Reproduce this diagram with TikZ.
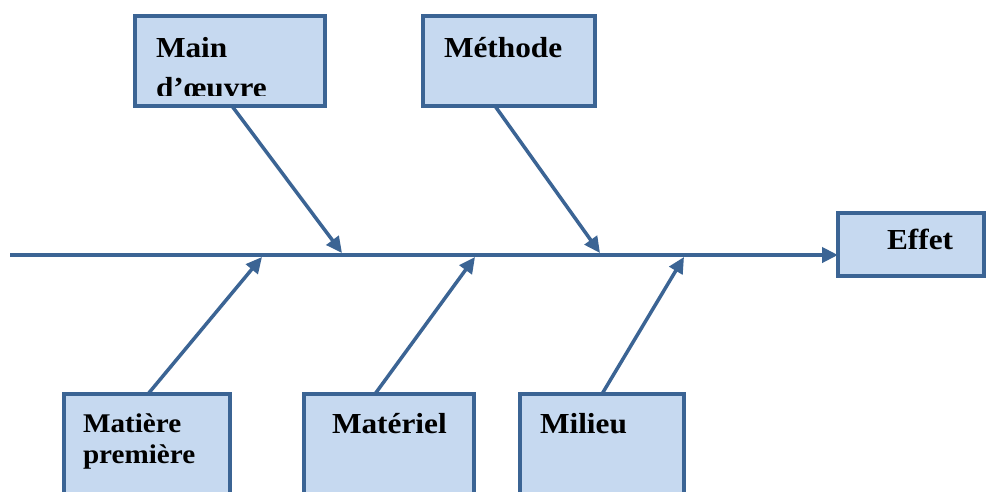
\documentclass[tikz,border=0pt]{standalone}
\usepackage{fontspec}
\setmainfont{Liberation Serif}
\usetikzlibrary{arrows.meta,calc}
\definecolor{bord}{HTML}{3B6494}
\definecolor{boxfill}{HTML}{C6D9F0}
\tikzset{
  cbox/.style={draw=bord, fill=boxfill, line width=4pt, inner sep=0pt, outer sep=0pt, anchor=north west},
  conn/.style={draw=bord, line width=3.5pt, -{Triangle[length=16pt,width=15pt]}},
  lbl/.style={anchor=base west, inner sep=0pt, outer sep=0pt, font=\fontsize{29}{32}\selectfont\bfseries},
  lbls/.style={anchor=base west, inner sep=0pt, outer sep=0pt, font=\fontsize{27}{30}\selectfont\bfseries},
}
\newcommand{\wide}[1]{\scalebox{1.08}[1]{#1}}
\begin{document}
\begin{tikzpicture}[x=1pt,y=-1pt]
\clip (0,0) rectangle (989,491);
\fill[white] (0,0) rectangle (989,491);

% box geometry (invisible first for names)
\path (135,16) node[cbox, draw=none, fill=none, minimum width=190pt, minimum height=90pt] (main) {};
\path (423,16) node[cbox, draw=none, fill=none, minimum width=172pt, minimum height=90pt] (meth) {};
\path (838,213) node[cbox, draw=none, fill=none, minimum width=146pt, minimum height=63pt] (effet) {};
\path (64,394) node[cbox, draw=none, fill=none, minimum width=166pt, minimum height=130pt] (matp) {};
\path (304,394) node[cbox, draw=none, fill=none, minimum width=170pt, minimum height=130pt] (matl) {};
\path (520,394) node[cbox, draw=none, fill=none, minimum width=164pt, minimum height=130pt] (mil) {};

% spine and bones
\coordinate (s0) at (10,255);
\coordinate (t1) at (342,253);
\coordinate (t2) at (600,253);
\coordinate (t3) at (262,257);
\coordinate (t4) at (475,257);
\coordinate (t5) at (684,257);
\draw[conn, line width=4pt] (s0) -- (s0 -| effet.west);
\draw[conn] ([xshift=2pt]main.south) -- (t1);
\draw[conn] ([xshift=-14pt]meth.south) -- (t2);
\draw[conn] ([xshift=1pt]matp.north) -- (t3);
\draw[conn] ([xshift=-14pt]matl.north) -- (t4);
\draw[conn] (mil.north) -- (t5);

% visible boxes
\path (135,16) node[cbox, minimum width=190pt, minimum height=90pt] (mainb) {};
\path (423,16) node[cbox, minimum width=172pt, minimum height=90pt] (methb) {};
\path (838,213) node[cbox, minimum width=146pt, minimum height=63pt] (effetb) {};
\path (64,394) node[cbox, minimum width=166pt, minimum height=130pt] (matpb) {};
\path (304,394) node[cbox, minimum width=170pt, minimum height=130pt] (matlb) {};
\path (520,394) node[cbox, minimum width=164pt, minimum height=130pt] (milb) {};

% texts
\node[lbl] (tmain) at (156,57) {\wide{Main}};
\begin{scope}
  \clip (137,60) rectangle (323,95.5);
  \node[lbl] (tmain2) at (156,97) {\wide{d’œuvre}};
\end{scope}
\node[lbl] (tmeth) at (444,57) {\wide{Méthode}};
\node[lbl] (teffet) at (887,249) {\wide{Effet}};
\node[lbls] (tmatp1) at (83,432) {\wide{Matière}};
\node[lbls] (tmatp2) at (83,463) {\wide{première}};
\node[lbl] (tmatl) at (332,433) {\wide{Matériel}};
\node[lbl] (tmil) at (540,433) {\wide{Milieu}};
\end{tikzpicture}
\end{document}
